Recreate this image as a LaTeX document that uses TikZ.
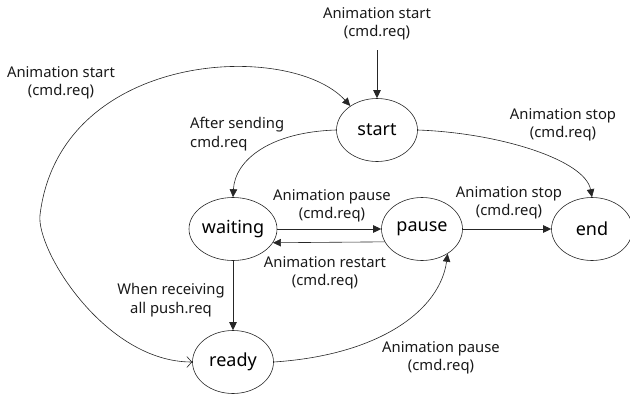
\documentclass[tikz,border=0pt]{standalone}
\usepackage{fontspec}
\setmainfont{Noto Sans}
\usetikzlibrary{shapes.geometric,arrows.meta}
\begin{document}
\begin{tikzpicture}[x=1pt,y=-1pt,
  state/.style={draw=black!85, line width=0.6pt, ellipse, minimum width=81pt, minimum height=63pt, inner sep=0pt, font=\fontsize{18}{20}\selectfont},
  lbl/.style={align=center, inner sep=0pt, font=\fontsize{14.8}{18.5}\selectfont, text=black!90},
  conn/.style={draw=black!85, line width=0.6pt, -{Triangle[length=8pt,width=7.5pt]}}
]
\useasboundingbox (0,0) rectangle (630,394);
% states
\node[state] (start) at (377,130) {start};
\node[state] (waiting) at (233,229) {waiting};
\node[state] (pause) at (422,229) {pause};
\node[state] (end) at (592,229) {end};
\node[state] (ready) at (233,362) {ready};
% labels
\node[lbl] (ltop) at (377,24) {Animation start\\(cmd.req)};
\node[lbl] (lleft) at (61,83) {Animation start\\(cmd.req)};
\node[lbl, align=left, anchor=west] (lsend) at (190,134) {After sending\\cmd.req};
\node[lbl] (lstop1) at (563,125) {Animation stop\\(cmd.req)};
\node[lbl] (lpause1) at (332,206) {Animation pause\\(cmd.req)};
\node[lbl] (lrestart) at (325,273) {Animation restart\\(cmd.req)};
\node[lbl] (lstop2) at (509,203) {Animation stop\\(cmd.req)};
\node[lbl] (lrecv) at (171,300) {When receiving\\all push.req};
\node[lbl] (lpause2) at (441,358) {Animation pause\\(cmd.req)};
% connectors
\coordinate (topin) at (377,50);
\draw[conn] (topin) -- (start.north);
\draw[draw=black!85, line width=0.6pt, {Straight Barb[length=5pt,width=11pt]}-{Triangle[length=8pt,width=7.5pt]}]
  (ready.west) .. controls (105,362) and (36,250) .. (40,215)
  .. controls (60,50) and (290,40) .. (start.138);
\draw[conn] (start.west) .. controls (270,132) and (235,160) .. (waiting.north);
\draw[conn] (start.east) .. controls (500,133) and (585,160) .. (end.north);
\draw[conn] (waiting.east) -- (pause.west);
\draw[conn] (pause.199) -- (waiting.-19);
\draw[conn] (pause.east) -- (end.west);
\draw[conn] (waiting.south) -- (ready.north);
\draw[conn] (ready.east) .. controls (380,355) and (440,310) .. (pause.-44);
\end{tikzpicture}
\end{document}
